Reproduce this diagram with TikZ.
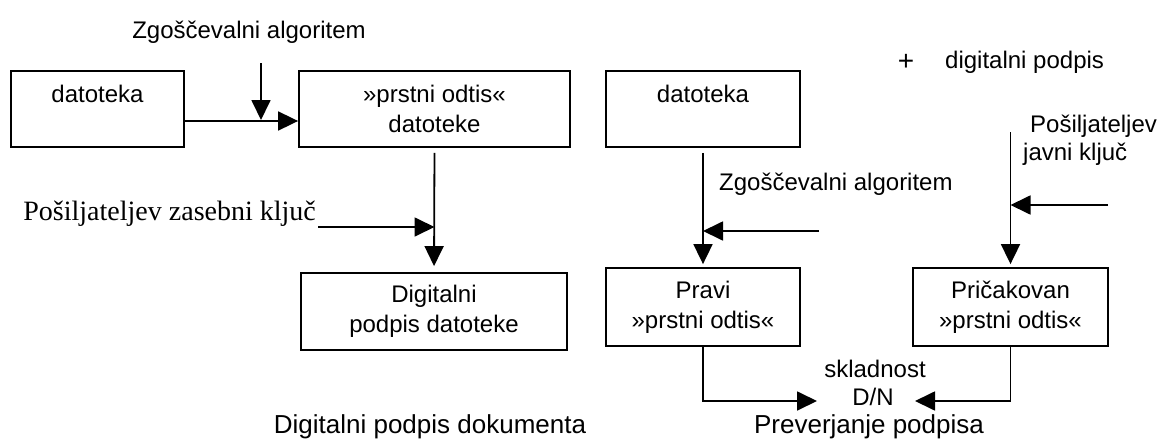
\documentclass[tikz,border=0pt]{standalone}
\usepackage{fontspec}
\setmainfont{Liberation Sans}
\newfontfamily\seriffont{Liberation Serif}
\usetikzlibrary{arrows.meta}
\tikzset{
  box/.style={draw, line width=1.8pt, align=center, inner sep=0pt, font=\fontsize{24pt}{30pt}\selectfont},
  arr/.style={line width=1.8pt, -{Triangle[length=20pt,width=19pt]}},
  txt/.style={inner sep=0pt, font=\fontsize{24pt}{30pt}\selectfont},
  captxt/.style={inner sep=0pt, font=\fontsize{26pt}{30pt}\selectfont},
}
\begin{document}
\begin{tikzpicture}[x=1pt, y=-1pt]
\useasboundingbox (0,0) rectangle (1159,439);
% left part
\node[box, minimum width=173pt, minimum height=76pt] (b1) at (97.5,109) {datoteka\\\mbox{}};
\node[box, minimum width=271pt, minimum height=76pt] (b2) at (434.5,109) {»prstni odtis«\\datoteke};
\node[box, minimum width=266pt, minimum height=77pt] (b3) at (434,311.5) {Digitalni\\podpis datoteke};
\node[txt, anchor=base] (zg1) at (249,38) {Zgoščevalni algoritem};
\coordinate (z1) at (261,63);
\coordinate (z1e) at (261,120);
\draw[arr] ([yshift=-12pt]b1.east) -- ([yshift=-12pt]b2.west);
\draw[arr] (z1) -- (z1e);
\draw[arr, shorten <=5pt, shorten >=6pt] (b2.south) -- (b3.north);
\node[inner sep=0pt, anchor=base east, font=\seriffont\fontsize{28pt}{32pt}\selectfont] (pz) at (316,220) {Pošiljateljev zasebni ključ};
\coordinate (k1) at (318,227);
\draw[arr] (k1) -- (k1 -| b2.south);
\node[captxt, anchor=base] (cap1) at (430,433) {Digitalni podpis dokumenta};
% right part
\node[box, minimum width=194pt, minimum height=76pt] (b4) at (703,109) {datoteka\\\mbox{}};
\node[box, minimum width=194pt, minimum height=78pt] (b5) at (703,307) {Pravi\\»prstni odtis«};
\node[box, minimum width=195pt, minimum height=78pt] (b6) at (1010.5,307) {Pričakovan\\»prstni odtis«};
\node[txt, anchor=base, font=\fontsize{28pt}{30pt}\selectfont] (plus) at (906,70) {+};
\node[txt, anchor=base west] (dp) at (945,68) {digitalni podpis};
\node[txt, anchor=base west] (zg2) at (719,190) {Zgoščevalni algoritem};
\draw[arr, shorten <=5pt, shorten >=3pt] (b4.south) -- (b5.north);
\coordinate (k2) at (819,231);
\draw[arr] (k2) -- (k2 -| b4.south);
\node[txt, anchor=base west] (pj1) at (1030,132) {Pošiljateljev};
\node[txt, anchor=base west] (pj2) at (1023,160) {javni ključ};
\coordinate (k3) at (1010.5,132);
\draw[arr, shorten >=3pt] (k3) -- (b6.north);
\coordinate (k4) at (1108,205);
\draw[arr] (k4) -- (k4 -| b6.north);
\coordinate (t1) at (817,401);
\coordinate (t2) at (915,401);
\draw[arr] (b5.south) |- (t1);
\draw[arr] (b6.south) |- (t2);
\node[txt, anchor=base] (sk) at (875,377) {skladnost};
\node[txt, anchor=base] (dn) at (873,405) {D/N};
\node[captxt, anchor=base] (pp) at (869,433) {Preverjanje podpisa};
\end{tikzpicture}
\end{document}
